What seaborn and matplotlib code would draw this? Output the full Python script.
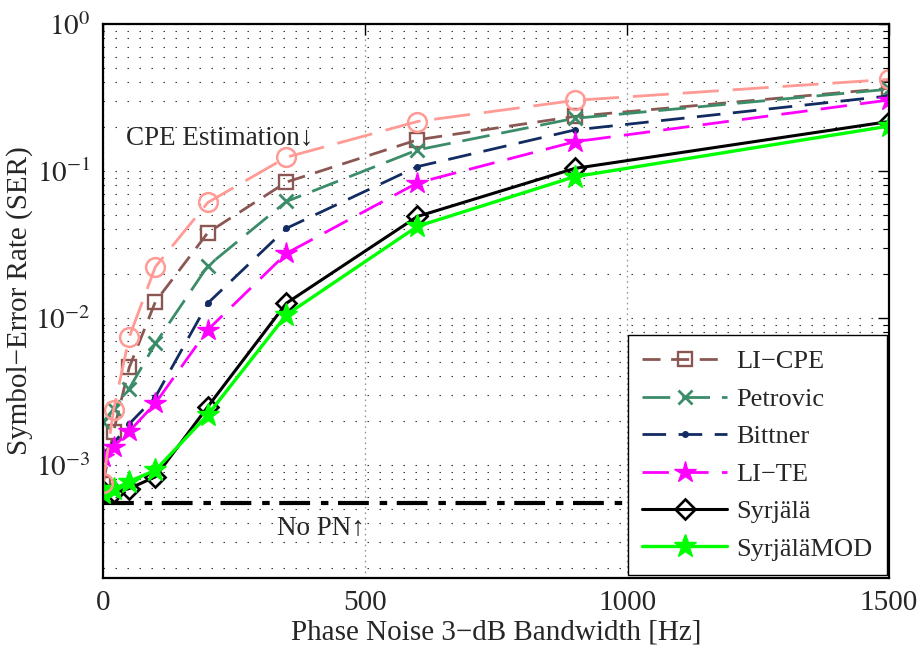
import numpy as np
import pandas as pd
import matplotlib
matplotlib.use("Agg")
import matplotlib.pyplot as plt
import seaborn as sns

# ---------------- data ----------------
bandwidth = [0, 20, 50, 100, 200, 350, 600, 900, 1500]
ser_cpe_est = [7.5e-4, 2.35e-3, 7.4e-3, 2.23e-2, 6.1e-2, 0.124, 0.217, 0.302, 0.42]
ser_li_cpe = [7.4e-4, 1.68e-3, 4.6e-3, 1.29e-2, 3.8e-2, 8.4e-2, 0.163, 0.235, 0.365]
ser_petrovic = [1.95e-3, 2.4e-3, 3.3e-3, 6.7e-3, 2.26e-2, 6.2e-2, 0.139, 0.228, 0.36]
ser_bittner = [1.2e-3, 1.4e-3, 1.9e-3, 2.9e-3, 1.26e-2, 4.07e-2, 0.107, 0.19, 0.324]
ser_li_te = [1.14e-3, 1.33e-3, 1.69e-3, 2.63e-3, 8.3e-3, 2.75e-2, 8.3e-2, 0.158, 0.304]
ser_syrjala = [6.6e-4, 6.5e-4, 6.9e-4, 8.3e-4, 2.49e-3, 1.26e-2, 4.9e-2, 0.104, 0.217]
ser_syrjala_mod = [6.4e-4, 6.8e-4, 7.7e-4, 9.2e-4, 2.19e-3, 1.05e-2, 4.2e-2, 0.0914, 0.202]
ser_no_pn = 5.5e-4

legend_labels = ["LI\u2212CPE", "Petrovic", "Bittner", "LI\u2212TE", "Syrjälä", "SyrjäläMOD"]
x_ticks = [0, 500, 1000, 1500]
y_ticks = [1e-3, 1e-2, 1e-1, 1e0]
y_tick_labels = [r"$10^{-3}$", r"$10^{-2}$", r"$10^{-1}$", r"$10^{0}$"]

# ---------------- style ----------------
sns.set_style("white")
plt.rcParams["font.family"] = ["Liberation Serif", "DejaVu Serif"]
plt.rcParams["mathtext.fontset"] = "stix"

fig = plt.figure(figsize=(9.19, 6.5), dpi=100)
ax = fig.add_axes([0.1121, 0.1108, 0.8553, 0.8523])

grid_ls = (0, (1.3, 9.5))
ax.set_axisbelow(True)

# No PN reference line
ax.axhline(ser_no_pn, color="black", lw=3, linestyle=(0, (7.4, 2.6, 1.8, 2.3)), zorder=1.5)

specs = [
    # values, label, color, dashes, marker, ms, facecolor, lw, mew
    (ser_li_cpe, legend_labels[0], "#8B5752", (6.5, 3.8), "s", 10.5, "none", 2.0, 1.7),
    (ser_petrovic, legend_labels[1], "#3B8C69", (10.0, 4.3), "x", 9.5, "none", 2.0, 2.0),
    (ser_bittner, legend_labels[2], "#122C62", (8.5, 4.5), "o", 4, "#122C62", 2.0, 1.0),
    (ser_li_te, legend_labels[3], "#FF00FF", (9.5, 4.8), "*", 16, "#FF00FF", 2.0, 1.0),
    (ser_syrjala, legend_labels[4], "black", None, "D", 10.5, "none", 2.2, 1.9),
    (ser_syrjala_mod, legend_labels[5], "#00FF00", None, "*", 17, "#00FF00", 2.4, 1.0),
    (ser_cpe_est, "_nolegend_", "#FF9A94", (13.0, 5.0), "o", 13.5, "none", 2.0, 1.8),
]

for vals, label, color, dash, marker, ms, mfc, lw, mew in specs:
    ls = "-" if dash is None else (0, dash)
    sns.lineplot(x=bandwidth, y=vals, ax=ax, color=color, linestyle=ls, lw=lw,
                 marker=marker, markersize=ms, markerfacecolor=mfc,
                 markeredgecolor=color, markeredgewidth=mew, label=label,
                 estimator=None, sort=False)

ax.set_yscale("log")
ax.set_xlim(0, 1500)
ax.set_ylim(1.7e-4, 1.0)
ax.set_xticks(x_ticks)
ax.set_xticklabels([str(v) for v in x_ticks])
ax.set_yticks(y_ticks)
ax.set_yticklabels(y_tick_labels)
ax.yaxis.set_minor_locator(matplotlib.ticker.LogLocator(base=10, subs=np.arange(2, 10), numticks=20))
ax.yaxis.set_minor_formatter(matplotlib.ticker.NullFormatter())
ax.xaxis.set_minor_locator(matplotlib.ticker.NullLocator())

ax.yaxis.grid(True, which="both", color="#303030", lw=0.8, linestyle=grid_ls)
ax.xaxis.grid(True, which="major", color="#909090", lw=0.9, linestyle=(0, (1.3, 3.0)))

for s in ax.spines.values():
    s.set_linewidth(1.6)
    s.set_color("black")
    s.set_visible(True)

ax.tick_params(which="both", direction="in", top=True, right=True, color="black")
ax.tick_params(which="major", length=8, width=1.0, labelsize=21, pad=9)
ax.tick_params(which="minor", length=4, width=0.8)

ax.set_xlabel("Phase Noise 3\u2212dB Bandwidth [Hz]", fontsize=21, labelpad=2)
ax.set_ylabel("Symbol\u2212Error Rate (SER)", fontsize=21)
ax.yaxis.set_label_coords(-0.089, 0.5)

ax.text(44, 0.17, "CPE Estimation\u2193", fontsize=19.5, ha="left", va="center")
ax.text(332, 3.75e-4, "No PN\u2191", fontsize=19.5, ha="left", va="center")

handles, labels = ax.get_legend_handles_labels()
leg = ax.legend(handles, labels, loc="lower right", bbox_to_anchor=(0.997, 0.005),
                borderaxespad=0, fontsize=19, handlelength=3.2, handletextpad=0.35,
                labelspacing=0.53, borderpad=0.55, fancybox=False, framealpha=1,
                edgecolor="black")
leg.get_frame().set_linewidth(1.0)

fig.savefig("out.png", dpi=100)
